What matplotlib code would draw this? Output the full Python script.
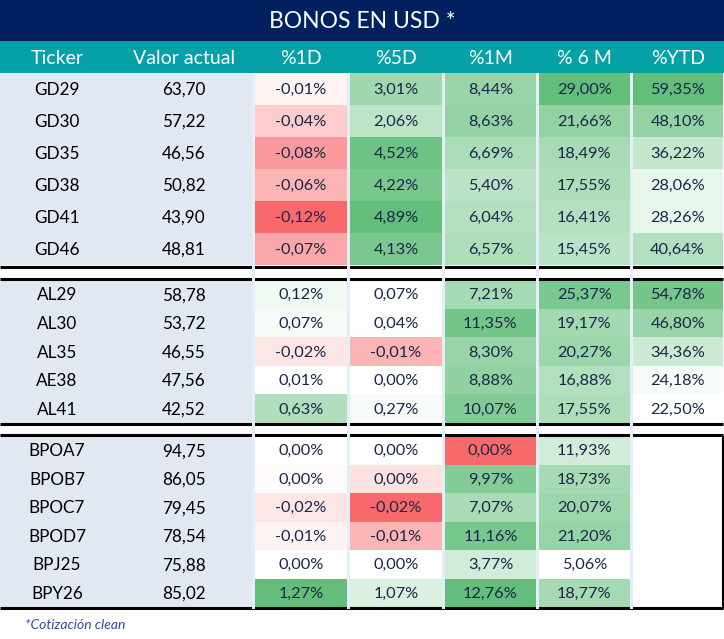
import matplotlib
matplotlib.use("Agg")
import matplotlib.pyplot as plt
from matplotlib.patches import Rectangle
from matplotlib.colors import LinearSegmentedColormap, TwoSlopeNorm, Normalize
import numpy as np

plt.rcParams['font.family'] = ['Lato', 'DejaVu Sans']

# ---------------- data ----------------
title = "BONOS EN USD *"
headers = ["Ticker", "Valor actual", "%1D", "%5D", "%1M", "% 6 M", "%YTD"]
footnote = "*Cotización clean"

section_sizes = [6, 5, 6]
tickers = ["GD29", "GD30", "GD35", "GD38", "GD41", "GD46",
           "AL29", "AL30", "AL35", "AE38", "AL41",
           "BPOA7", "BPOB7", "BPOC7", "BPOD7", "BPJ25", "BPY26"]
price = [63.70, 57.22, 46.56, 50.82, 43.90, 48.81,
         58.78, 53.72, 46.55, 47.56, 42.52,
         94.75, 86.05, 79.45, 78.54, 75.88, 85.02]
chg_1d = [-0.01, -0.04, -0.08, -0.06, -0.12, -0.07,
          0.12, 0.07, -0.02, 0.01, 0.63,
          0.00, -0.003, -0.02, -0.01, 0.00, 1.27]
chg_5d = [3.01, 2.06, 4.52, 4.22, 4.89, 4.13,
          0.07, 0.04, -0.01, 0.00, 0.27,
          0.00, -0.004, -0.02, -0.01, 0.00, 1.07]
chg_1m = [8.44, 8.63, 6.69, 5.40, 6.04, 6.57,
          7.21, 11.35, 8.30, 8.88, 10.07,
          -0.001, 9.97, 7.07, 11.16, 3.77, 12.76]
chg_6m = [29.00, 21.66, 18.49, 17.55, 16.41, 15.45,
          25.37, 19.17, 20.27, 16.88, 17.55,
          11.93, 18.73, 20.07, 21.20, 5.06, 18.77]
chg_ytd = [59.35, 48.10, 36.22, 28.06, 28.26, 40.64,
           54.78, 46.80, 34.36, 24.18, 22.50,
           np.nan, np.nan, np.nan, np.nan, np.nan, np.nan]

# ---------------- style / layout ----------------
NAVY = "#002060"
TEAL = "#06A0A7"
TICK_BG = "#E1E8F2"
GAP = "#E3EEF9"
TXT = "#1B2748"
RED, WHITE, GREEN = "#F8696B", "#FFFFFF", "#63BE7B"
cm_div = LinearSegmentedColormap.from_list("rwg", [RED, WHITE, GREEN])
cm_seq = LinearSegmentedColormap.from_list("wg", [WHITE, GREEN])

W, H = 724, 639
fig = plt.figure(figsize=(W / 100, H / 100), dpi=100)
ax = fig.add_axes([0, 0, 1, 1])
ax.set_xlim(0, W)
ax.set_ylim(H, 0)
ax.axis("off")

title_h = 41
head_top, head_bot = 41, 73
sec_bounds = [(73, 265), (280, 423), (436, 607)]
sep_lines = [(266.5, 278.5), (424.0, 434.5)]
bottom_y = 607.5

col_left = [255, 350, 445, 539, 633]
col_right = [347, 442, 536, 630, 722.5]
gaps = [(252, 255), (347, 350), (442, 445), (536, 539), (630, 633)]
x_ticker, x_price = 57, 184
header_x = [57, 184] + [(l + r) / 2 for l, r in zip(col_left, col_right)]

# title bar
ax.add_patch(Rectangle((0, 0), W, title_h, facecolor=NAVY, edgecolor="none"))
ax.text(W / 2, title_h / 2 + 1, title, color="white", fontsize=16.5,
        ha="center", va="center")
# header bar
ax.add_patch(Rectangle((0, head_top), W, head_bot - head_top,
                       facecolor=TEAL, edgecolor="none"))
for hx, h in zip(header_x, headers):
    ax.text(hx, (head_top + head_bot) / 2 + 1, h, color="white", fontsize=14,
            ha="center", va="center")

# columns of changes
cols = [chg_1d, chg_5d, chg_1m, chg_6m, chg_ytd]
norms = []
for j, c in enumerate(cols):
    arr = np.array(c, dtype=float)
    if j < 3:
        norms.append((cm_div, TwoSlopeNorm(vmin=np.nanmin(arr), vcenter=0,
                                           vmax=np.nanmax(arr))))
    else:
        norms.append((cm_seq, Normalize(vmin=np.nanmin(arr), vmax=np.nanmax(arr))))


def fmt(v, dec=2, pct=True):
    r = round(v, dec)
    if r == 0:
        r = 0.0
    s = f"{r:.{dec}f}".replace(".", ",")
    return s + ("%" if pct else "")


idx = 0
for (top, bot), n in zip(sec_bounds, section_sizes):
    rh = (bot - top) / n
    ax.add_patch(Rectangle((0, top), 252, bot - top, facecolor=TICK_BG,
                           edgecolor="none"))
    for k in range(n):
        y0 = top + k * rh
        yc = y0 + rh / 2 + 1
        ax.text(x_ticker, yc, tickers[idx], fontsize=12.3, color="black",
                ha="center", va="center")
        ax.text(x_price, yc, fmt(price[idx], pct=False), fontsize=12.3,
                color="black", ha="center", va="center")
        for j, c in enumerate(cols):
            v = c[idx]
            l, r = col_left[j], col_right[j]
            if np.isnan(v):
                face = "white"
            else:
                cmap, nrm = norms[j]
                face = cmap(nrm(v))
            ax.add_patch(Rectangle((l, y0), r - l, rh, facecolor=face,
                                   edgecolor="none"))
            if not np.isnan(v):
                ax.text((l + r) / 2, yc, fmt(v), fontsize=11.8, color=TXT,
                        ha="center", va="center")
        idx += 1

# separators
for (a, b) in sep_lines:
    ax.add_patch(Rectangle((0, a), W, b - a, facecolor="white", edgecolor="none"))
    ax.plot([0, 722.5], [a, a], color="black", lw=2.2, solid_capstyle="butt")
    ax.plot([0, 722.5], [b, b], color="black", lw=2.2, solid_capstyle="butt")
ax.plot([0, 723], [bottom_y, bottom_y], color="black", lw=2.2,
        solid_capstyle="butt")
# empty YTD box border
ax.plot([722.5, 722.5], [434.5, bottom_y], color="black", lw=2.2,
        solid_capstyle="butt")

# column gaps
for (a, b) in gaps:
    ax.add_patch(Rectangle((a, head_bot), b - a, bottom_y + 1 - head_bot,
                           facecolor=GAP, edgecolor="none", zorder=5))

ax.text(25, 625, footnote, fontsize=10, style="italic", color="#2F4C9E",
        ha="left", va="center")

fig.savefig("out.png", dpi=100)
